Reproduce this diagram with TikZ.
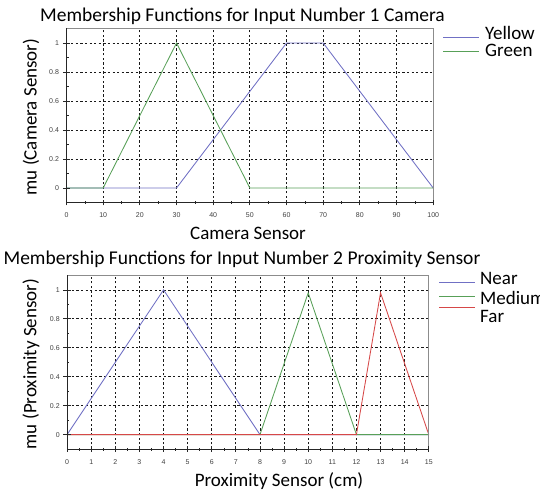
\documentclass[tikz,border=0pt]{standalone}
\usepackage{fontspec}
\setmainfont{Carlito}
\newfontfamily\tickfont{Liberation Sans}
\definecolor{mfblue}{RGB}{112,112,196}
\definecolor{mfgreen}{RGB}{88,160,88}
\definecolor{mfred}{RGB}{214,72,72}
\tikzset{
  gridline/.style={black!90, line width=0.75pt, dash pattern=on 2.3pt off 2.3pt},
  axisline/.style={black!85, line width=0.8pt},
  frameline/.style={black!45, line width=0.6pt},
  curve/.style={line width=0.85pt, line join=miter},
  ticklab/.style={font=\tickfont\fontsize{7}{8}\selectfont, text=black!75, inner sep=0pt},
  titletext/.style={font=\fontsize{19.5}{21}\selectfont, inner sep=0pt},
  bigtext/.style={font=\fontsize{19}{21}\selectfont, inner sep=0pt},
  legtext/.style={font=\fontsize{19}{21}\selectfont, inner sep=0pt, anchor=west},
}
\begin{document}
\begin{tikzpicture}[x=1pt,y=1pt]
\useasboundingbox (0,0) rectangle (540,491);

% ---------- Input 1: camera ----------
\node[titletext] (title1) at (242.5,474.5) {Membership Functions for Input Number 1 Camera};
\node[bigtext, rotate=90] (ylab1) at (31,374) {mu (Camera Sensor)};
\node[bigtext] (xlab1) at (248,257.5) {Camera Sensor};

\begin{scope}[shift={(66.5,303)}, xscale=3.667, yscale=145]
  % grid
  \foreach \x in {10,20,...,90} \draw[gridline] (\x,-0.1) -- (\x,1.1);
  \foreach \y in {0.2,0.4,0.6,0.8,1} \draw[gridline] (0,\y) -- (100,\y);
  % membership curves
  \draw[curve, mfblue]  (0,0) -- (30,0) -- (60,1) -- (70,1) -- (100,0);
  \draw[curve, mfgreen] (0,0) -- (10,0) -- (30,1) -- (50,0) -- (100,0);
  % frame and axes
  \draw[frameline] (0,1.1) -- (100,1.1) -- (100,-0.1);
  \draw[axisline] (0,1.1) -- (0,-0.1) -- (100,-0.1);
  \foreach \x in {0,10,...,100} \draw[axisline] (\x,-0.12) -- (\x,-0.08);
  \foreach \x in {5,15,...,95} \draw[axisline, line width=0.6pt] (\x,-0.11) -- (\x,-0.093);
  \foreach \y in {0,0.2,0.4,0.6,0.8,1} \draw[axisline] (-1,\y) -- (1,\y);
  \foreach \y in {0.1,0.3,0.5,0.7,0.9} \draw[axisline, line width=0.6pt] (0,\y) -- (0.6,\y);
  % tick labels
  \foreach \x [count=\i] in {0,10,...,100}
    \node[ticklab, anchor=center] (cx\i) at (\x,-0.19) {\x};
  \foreach \y/\t [count=\i] in {0/0,0.2/0.2,0.4/0.4,0.6/0.6,0.8/0.8,1/1}
    \node[ticklab, anchor=east] (cy\i) at (-2,\y) {\t};
\end{scope}

% legend
\coordinate (ly1a) at (443,453.7); \coordinate (ly1b) at (479,453.7);
\coordinate (lg1a) at (443,440); \coordinate (lg1b) at (479,440);
\draw[curve, mfblue]  (ly1a) -- (ly1b);
\draw[curve, mfgreen] (lg1a) -- (lg1b);
\node[legtext] (yellow) at (485,457.7) {Yellow};
\node[legtext] (green)  at (485,441) {Green};

% ---------- Input 2: proximity ----------
\node[titletext] (title2) at (242,232) {Membership Functions for Input Number 2 Proximity Sensor};
\node[bigtext, rotate=90] (ylab2) at (31,127) {mu (Proximity Sensor)};
\node[bigtext] (xlab2) at (279,10) {Proximity Sensor (cm)};

\begin{scope}[shift={(67.1,56.4)}, xscale=24.11, yscale=144.7]
  % grid
  \foreach \x in {1,...,14} \draw[gridline] (\x,-0.1) -- (\x,1.1);
  \foreach \y in {0.2,0.4,0.6,0.8,1} \draw[gridline] (0,\y) -- (15,\y);
  % membership curves
  \draw[curve, mfblue]  (0,0) -- (4,1) -- (8,0) -- (15,0);
  \draw[curve, mfgreen] (0,0) -- (8,0) -- (10,0.98) -- (12,0) -- (15,0);
  \draw[curve, mfred]   (0,0) -- (12,0) -- (13,0.98) -- (15,0);
  % frame and axes
  \draw[frameline] (0,1.1) -- (15,1.1) -- (15,-0.1);
  \draw[axisline] (0,1.1) -- (0,-0.1) -- (15,-0.1);
  \foreach \x in {0,...,15} \draw[axisline] (\x,-0.12) -- (\x,-0.08);
  \foreach \x in {0.5,1.5,...,14.5} \draw[axisline, line width=0.6pt] (\x,-0.11) -- (\x,-0.093);
  \foreach \y in {0,0.2,0.4,0.6,0.8,1} \draw[axisline] (-0.15,\y) -- (0.15,\y);
  \foreach \y in {0.1,0.3,0.5,0.7,0.9} \draw[axisline, line width=0.6pt] (0,\y) -- (0.09,\y);
  % tick labels
  \foreach \x [count=\i] in {0,...,15}
    \node[ticklab, anchor=center] (px\i) at (\x,-0.19) {\x};
  \foreach \y/\t [count=\i] in {0/0,0.2/0.2,0.4/0.4,0.6/0.6,0.8/0.8,1/1}
    \node[ticklab, anchor=east] (py\i) at (-0.3,\y) {\t};
\end{scope}

% legend
\coordinate (ln2a) at (439,208.7); \coordinate (ln2b) at (475,208.7);
\coordinate (lm2a) at (439,194.3); \coordinate (lm2b) at (475,194.3);
\coordinate (lf2a) at (439,183.3); \coordinate (lf2b) at (475,183.3);
\draw[curve, mfblue]  (ln2a) -- (ln2b);
\draw[curve, mfgreen] (lm2a) -- (lm2b);
\draw[curve, mfred]   (lf2a) -- (lf2b);
\node[legtext] (near)   at (480,212.7) {Near};
\node[legtext] (medium) at (480,193.5) {Medium};
\node[legtext] (far)    at (480,174.5) {Far};
\end{tikzpicture}
\end{document}
